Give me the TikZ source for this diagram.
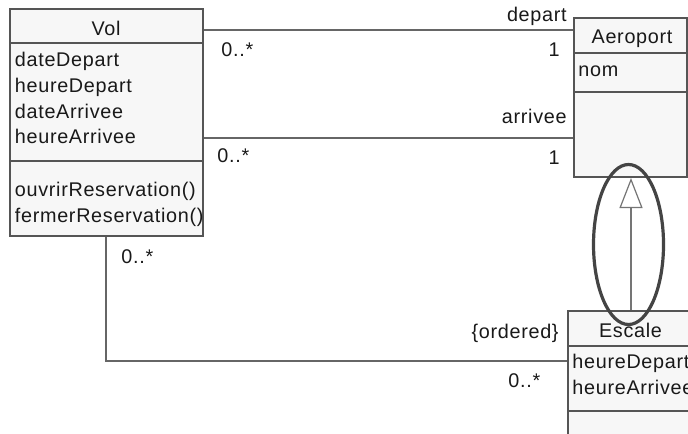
\documentclass[tikz,border=0pt]{standalone}
\usepackage{fontspec}
\setmainfont{Liberation Sans}[LetterSpace=3.5]
\usetikzlibrary{arrows.meta,fit}
\definecolor{boxline}{HTML}{555555}
\definecolor{boxfill}{HTML}{F7F7F7}
\definecolor{assoc}{HTML}{666666}
\definecolor{ringcol}{HTML}{444444}
\tikzset{
  classbox/.style={draw=boxline,fill=boxfill,line width=1pt,inner sep=0pt},
  sepline/.style={draw=boxline,line width=0.8pt},
  assocline/.style={draw=assoc,line width=0.7pt},
  genline/.style={draw=assoc!90,line width=0.6pt,-{Triangle[open,width=11.5pt,length=15pt]}},
  ring/.style={draw=ringcol,line width=1.6pt},
  txt/.style={anchor=base west,inner sep=0pt,text=black!90,font=\fontsize{9.9}{12}\selectfont},
  role/.style={txt,anchor=base east}
}
\begin{document}
\begin{tikzpicture}[x=0.5pt,y=-0.5pt]
\useasboundingbox (0,0) rectangle (688,433);
\clip (0,0) rectangle (688,433);
\fill[white] (0,0) rectangle (688,433);
% classes
\node[classbox,fit={(10,9.5) (202.5,236)}] (vol) {};
\node[classbox,fit={(574,18) (687,177)}] (aero) {};
\node[classbox,fit={(568,311) (700,450)}] (escale) {};
\draw[sepline] (10,43)--(202.5,43);\draw[sepline] (10,161)--(202.5,161);
\draw[sepline] (574,53)--(687,53);\draw[sepline] (574,92)--(687,92);
\draw[sepline] (568,346)--(700,346);\draw[sepline] (568,411)--(700,411);
\node[txt,anchor=base] (volname) at (106,36) {Vol};
\node[txt] (vola) at (14.5,67) {dateDepart};
\node[txt] (volb) at (14.5,92.5) {heureDepart};
\node[txt] (volc) at (14.5,118) {dateArrivee};
\node[txt] (vold) at (14.5,143.5) {heureArrivee};
\node[txt] (volm) at (14.5,196.5) {ouvrirReservation()};
\node[txt] (voln) at (14.5,222) {fermerReservation()};
\node[txt,anchor=base] (aeroname) at (632,44) {Aeroport};
\node[txt] (aeroa) at (578,76) {nom};
\node[txt,anchor=base] (escname) at (630.5,337) {Escale};
\node[txt] (esca) at (572,368) {heureDepart};
\node[txt] (escb) at (572,394) {heureArrivee};
% associations
\coordinate (dep) at (0,30);\coordinate (arr) at (0,138);\coordinate (bend) at (106,361);\coordinate (gx) at (631,0);
\draw[assocline] (vol.east |- dep)--(aero.west |- dep);
\draw[assocline] (vol.east |- arr)--(aero.west |- arr);
\draw[assocline] (vol.south -| bend)--(bend)--(escale.west |- bend);
\draw[genline] (escale.north -| gx)--(aero.south -| gx);
\node[txt] (depmult) at (221,57) {0..*};\node[role] (deprole) at (567,22) {depart};\node[role] (depone) at (560,57) {1};
\node[txt] (arrmult) at (217,162) {0..*};\node[role] (arrrole) at (567,123) {arrivee};\node[role] (arrone) at (560,164) {1};
\node[txt] (volmult) at (121,263) {0..*};\node[role] (ordered) at (559,338) {\{ordered\}};\node[txt] (escmult) at (508,387) {0..*};
% highlight
\draw[ring] (628.5,244.5) ellipse [x radius=35,y radius=80];
\end{tikzpicture}
\end{document}
